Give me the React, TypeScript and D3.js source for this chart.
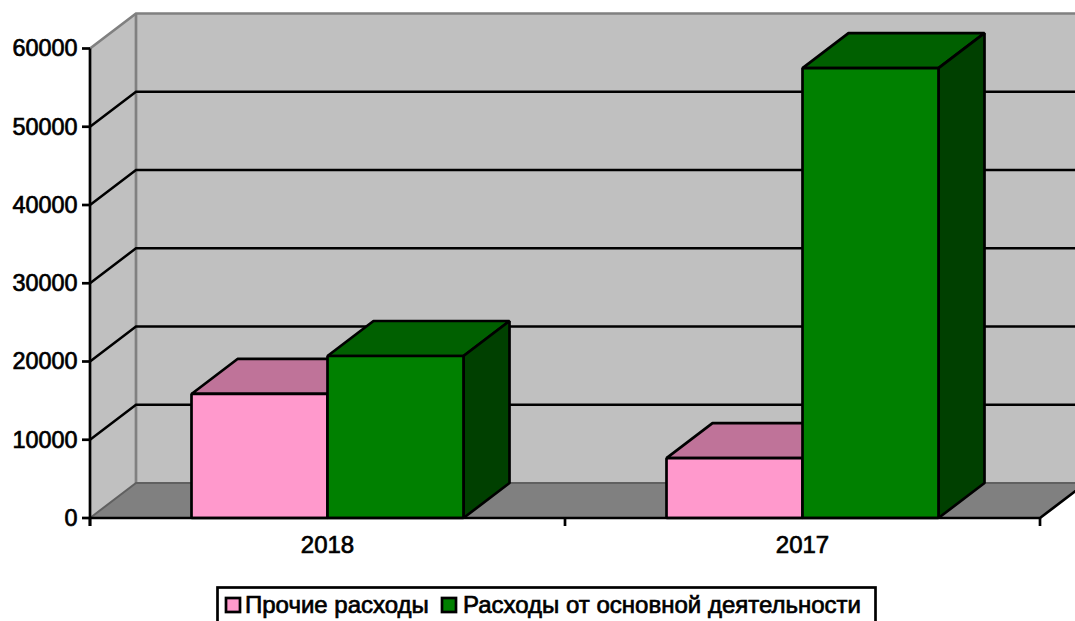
import React from "react";
import * as d3 from "d3";

const categories = ["2018", "2017"];
const seriesNames = ["Прочие расходы", "Расходы от основной деятельности"];
const otherExpenses = [15850, 7650];
const coreExpenses = [20700, 57500];
const yTicks = [0, 10000, 20000, 30000, 40000, 50000, 60000];

const W = 1075, H = 621;
const X0 = 90, X1 = 1040, Y0 = 518, Y1 = 48.5, DX = 46, DY = -35;
const BAR_W = 136;
const FONT = "'Liberation Sans', Arial, sans-serif";
const LW = 2.7;
const colors = [
  { front: "#ff99cc", top: "#bf7399", side: "#804d66" },
  { front: "#008000", top: "#006000", side: "#004000" },
];

export default function App() {
  const x = d3.scaleBand<string>().domain(categories).range([X0, X1]);
  const y = d3.scaleLinear().domain([0, 60000]).range([Y0, Y1]);
  const pts = (a: number[][]) => a.map((p) => p.join(",")).join(" ");
  const bars = [otherExpenses, coreExpenses];
  const textStyle = { fontFamily: FONT, fill: "#000", stroke: "#000", strokeWidth: 0.7 };

  return (
    <svg width={W} height={H} style={{ position: "fixed", left: 0, top: 0, display: "block", background: "#fff" }}>
      {/* walls */}
      <polygon points={pts([[X0 + DX, y(60000) + DY], [X1 + DX, y(60000) + DY], [X1 + DX, Y0 + DY], [X0 + DX, Y0 + DY]])} fill="#c0c0c0" />
      <polygon points={pts([[X0, y(60000)], [X0 + DX, y(60000) + DY], [X0 + DX, Y0 + DY], [X0, Y0]])} fill="#c0c0c0" />
      {/* floor */}
      <polygon points={pts([[X0, Y0], [X0 + DX, Y0 + DY], [X1 + DX, Y0 + DY], [X1, Y0]])} fill="#808080" />
      {/* wall borders */}
      <path d={`M${X0},${y(60000)}L${X0 + DX},${y(60000) + DY}H${W + 5}`} fill="none" stroke="#808080" strokeWidth={LW} />
      <line x1={X0 + DX} x2={X0 + DX} y1={y(60000) + DY} y2={Y0 + DY} stroke="#808080" strokeWidth={LW} />
      <path d={`M${X0},${Y0}L${X0 + DX},${Y0 + DY}H${W + 5}`} fill="none" stroke="#606060" strokeWidth={2} />
      {/* gridlines */}
      {yTicks.filter((t) => t > 0 && t < 60000).map((t) => (
        <path key={t} d={`M${X0},${y(t)}L${X0 + DX},${y(t) + DY}H${W + 5}`} fill="none" stroke="#000" strokeWidth={LW - 0.2} />
      ))}
      {/* bars */}
      {categories.map((c, i) => {
        const cx = x(c)! + x.bandwidth() / 2;
        return bars.map((vals, s) => {
          const l = cx - BAR_W + s * BAR_W;
          const r = l + BAR_W;
          const t = y(vals[i]);
          return (
            <g key={c + s} stroke="#000" strokeWidth={LW} strokeLinejoin="bevel">
              <polygon points={pts([[l, t], [l + DX, t + DY], [r + DX, t + DY], [r, t]])} fill={colors[s].top} />
              <polygon points={pts([[r, t], [r + DX, t + DY], [r + DX, Y0 + DY], [r, Y0]])} fill={colors[s].side} />
              <rect x={l} y={t} width={BAR_W} height={Y0 - t} fill={colors[s].front} />
            </g>
          );
        });
      })}
      {/* axes */}
      <g stroke="#000" strokeWidth={LW} fill="none">
        <line x1={X0} x2={X0} y1={y(60000)} y2={Y0 + 8} />
        <path d={`M${X0},${Y0}H${X1}L${X1 + DX},${Y0 + DY}`} />
        {yTicks.map((t) => <line key={t} x1={X0 - 8} x2={X0} y1={y(t)} y2={y(t)} />)}
        {[X0, X0 + x.step(), X1].map((p) => <line key={p} x1={p} x2={p} y1={Y0} y2={Y0 + 8} />)}
      </g>
      {yTicks.map((t) => (
        <text key={t} x={77.5} y={y(t)} dy="0.34em" textAnchor="end" fontSize={23.4} style={textStyle}>{t}</text>
      ))}
      {categories.map((c) => (
        <text key={c} x={x(c)! + x.bandwidth() / 2} y={552.5} textAnchor="middle" fontSize={24} style={textStyle}>{c}</text>
      ))}
      {/* legend */}
      <rect x={217.5} y={587.5} width={658} height={50} fill="#fff" stroke="#000" strokeWidth={LW} />
      <rect x={226} y={598} width={14} height={14} fill={colors[0].front} stroke="#000" strokeWidth={LW} />
      <text x={245} y={613} fontSize={24} style={textStyle}>{seriesNames[0]}</text>
      <rect x={442} y={598} width={14} height={14} fill={colors[1].front} stroke="#000" strokeWidth={LW} />
      <text x={463} y={613} fontSize={24} style={textStyle}>{seriesNames[1]}</text>
    </svg>
  );
}
